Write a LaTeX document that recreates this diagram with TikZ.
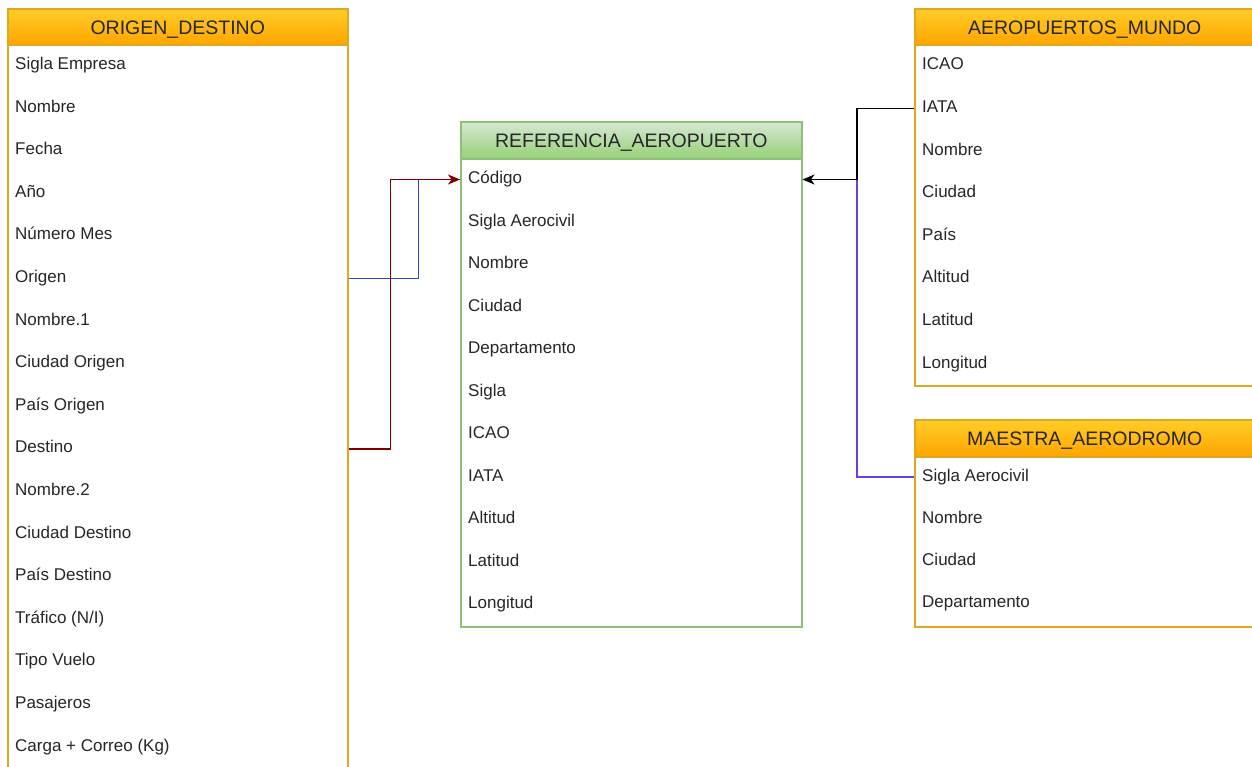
\documentclass[tikz,border=0pt]{standalone}
\usepackage{fontspec}
\setmainfont{Liberation Sans}
\usetikzlibrary{arrows.meta}
\definecolor{ostroke}{HTML}{E0A820}
\definecolor{otop}{HTML}{FFCD28}
\definecolor{obot}{HTML}{FFA500}
\definecolor{gstroke}{HTML}{8CC078}
\definecolor{gtop}{HTML}{D5E8D4}
\definecolor{gbot}{HTML}{97D077}
\definecolor{lred}{HTML}{800000}
\definecolor{lblue}{HTML}{2E45D0}
\definecolor{lpurple}{HTML}{6A3FE0}
\begin{document}
\begin{tikzpicture}[x=1pt,y=-1pt,
  hdrO/.style={draw=ostroke, line width=1.5pt, top color=otop, bottom color=obot, minimum width=340pt, anchor=north west, inner sep=0pt, text height=14.5pt, text depth=0pt, font=\fontsize{19.5}{22}\selectfont, text=black!85},
  hdrG/.style={draw=gstroke, line width=1.5pt, top color=gtop, bottom color=gbot, minimum width=341pt, anchor=north west, inner sep=0pt, text height=14.5pt, text depth=0pt, font=\fontsize{19.5}{22}\selectfont, text=black!85},
  bodyO/.style={draw=ostroke, line width=1.5pt, fill=white, minimum width=340pt, anchor=north west, inner sep=0pt},
  bodyG/.style={draw=gstroke, line width=1.5pt, fill=white, minimum width=341pt, anchor=north west, inner sep=0pt},
  row/.style={anchor=west, inner xsep=8pt, inner ysep=0pt, text height=12pt, text depth=4pt, font=\fontsize{17}{20}\selectfont, text=black!85},
  conn/.style={line width=1.5pt},
  tip/.style={-{Stealth[length=12pt,width=10pt,inset=3.5pt]}}
]
\useasboundingbox (0,0) rectangle (1252,766);

% ORIGEN_DESTINO
\node[bodyO, minimum height=780pt] (od) at (7,44) {};
\node[hdrO, minimum height=36pt] (odh) at (7,8) {ORIGEN\_DESTINO};
\foreach \t [count=\i] in {Sigla Empresa, Nombre, Fecha, Año, Número Mes, Origen, Nombre.1, Ciudad Origen, País Origen, Destino, Nombre.2, Ciudad Destino, País Destino, Tráfico (N/I), Tipo Vuelo, Pasajeros, Carga + Correo (Kg)}
  \node[row] (od-\i) at (7,{65.5+42.6*(\i-1)}) {\t};

% REFERENCIA_AEROPUERTO
\node[bodyG, minimum height=468pt] (ref) at (460,158) {};
\node[hdrG, minimum height=37pt] (refh) at (460,121) {REFERENCIA\_AEROPUERTO};
\foreach \t [count=\i] in {Código, Sigla Aerocivil, Nombre, Ciudad, Departamento, Sigla, ICAO, IATA, Altitud, Latitud, Longitud}
  \node[row] (ref-\i) at (460,{179.5+42.5*(\i-1)}) {\t};

% AEROPUERTOS_MUNDO
\node[bodyO, minimum height=341pt] (am) at (914,44) {};
\node[hdrO, minimum height=36pt] (amh) at (914,8) {AEROPUERTOS\_MUNDO};
\foreach \t [count=\i] in {ICAO, IATA, Nombre, Ciudad, País, Altitud, Latitud, Longitud}
  \node[row] (am-\i) at (914,{65.9+42.6*(\i-1)}) {\t};

% MAESTRA_AERODROMO
\node[bodyO, minimum height=170pt] (ma) at (914,456) {};
\node[hdrO, minimum height=37pt] (mah) at (914,419) {MAESTRA\_AERODROMO};
\foreach \t [count=\i] in {Sigla Aerocivil, Nombre, Ciudad, Departamento}
  \node[row] (ma-\i) at (914,{477+42.3*(\i-1)}) {\t};

% connectors
\draw[conn, lblue] (od-6.west -| od.east) -- ++(70,0) |- (ref-1.west);
\draw[conn, lred, tip] (od-10.west -| od.east) -- ++(42,0) |- (ref-1.west);
\draw[conn, lpurple] (ma-1.west) -- ++(-57,0) |- (ref-1.west -| ref.east);
\draw[conn, black, tip] (am-2.west) -- ++(-57,0) |- (ref-1.west -| ref.east);
\end{tikzpicture}
\end{document}
